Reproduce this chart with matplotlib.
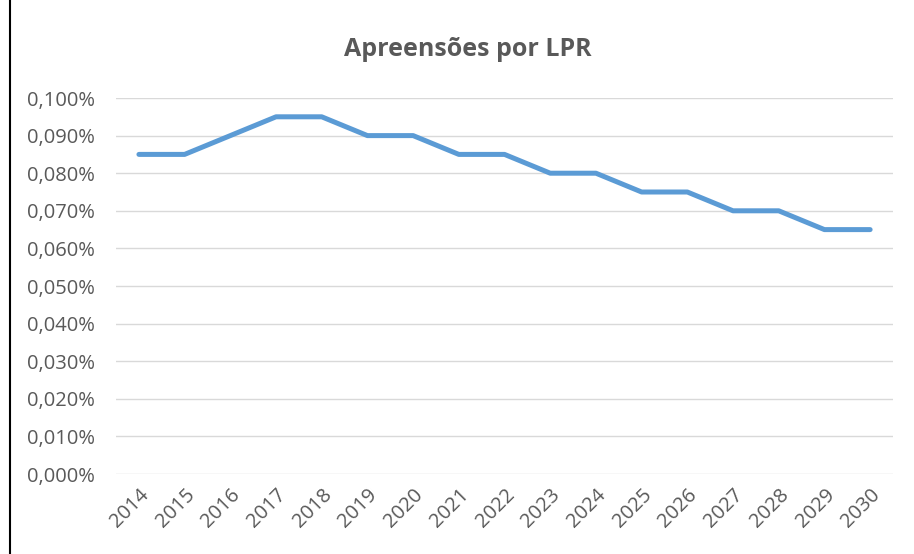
import matplotlib.pyplot as plt
from matplotlib.ticker import FuncFormatter

# Dados
anos = ['2014', '2015', '2016', '2017', '2018', '2019', '2020', '2021', '2022',
        '2023', '2024', '2025', '2026', '2027', '2028', '2029', '2030']
apreensoes = [0.085, 0.085, 0.090, 0.095, 0.095, 0.090, 0.090, 0.085, 0.085,
              0.080, 0.080, 0.075, 0.075, 0.070, 0.070, 0.065, 0.065]

plt.rcParams['font.family'] = ['Open Sans', 'DejaVu Sans']
cinza = '#595959'

fig = plt.figure(figsize=(9.14, 5.54), dpi=100)
ax = fig.add_axes([0.127, 0.1444, 0.850, 0.6787])

x = list(range(len(anos)))
ax.plot(x, apreensoes, color='#5B9BD5', linewidth=3.6, solid_capstyle='round')

ax.set_ylim(0, 0.1)
ax.set_xlim(-0.5, len(anos) - 0.5)
ax.set_yticks([i / 100 for i in range(11)])
ax.yaxis.set_major_formatter(FuncFormatter(lambda v, p: f'{v:.3f}'.replace('.', ',') + '%'))
ax.set_xticks(x)
ax.set_xticklabels(anos, rotation=45, ha='right', rotation_mode='anchor')

ax.grid(axis='y', color='#D9D9D9', linewidth=1)
ax.set_axisbelow(True)
for s in ax.spines.values():
    s.set_visible(False)
ax.tick_params(length=0, colors=cinza, labelsize=14.5)
ax.tick_params(axis='y', pad=15)
ax.tick_params(axis='x', pad=8)

fig.text(0.512, 0.91, 'Apreensões por LPR', ha='center', va='center',
         fontsize=18, fontweight='bold', color=cinza)

# linha vertical à esquerda
fig.add_artist(plt.Line2D([0.011, 0.011], [0, 1], color='black', linewidth=1.5,
                          transform=fig.transFigure))

fig.savefig('out.png', dpi=100)
